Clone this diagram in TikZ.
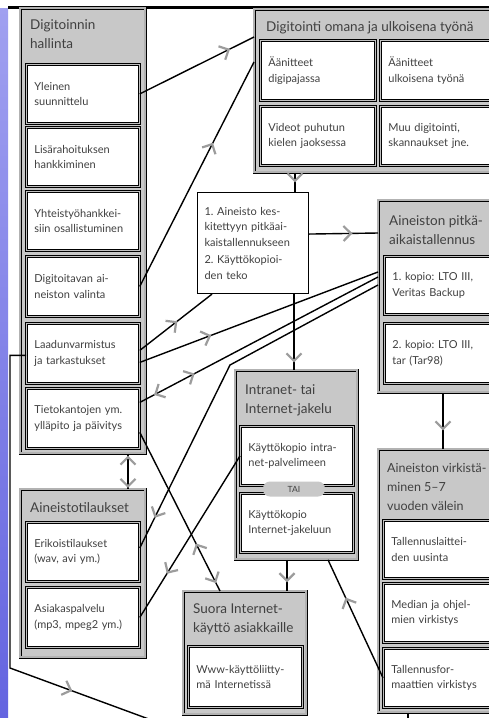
\documentclass[tikz,border=0pt]{standalone}
\usepackage{fontspec}
\setmainfont{Lato}
\usetikzlibrary{arrows.meta,decorations.markings,calc}

\definecolor{textgray}{HTML}{404040}
\definecolor{panelgray}{HTML}{C8C8C8}
\definecolor{tipgray}{HTML}{9C9C9C}
\definecolor{bandtop}{HTML}{A0A0F0}
\definecolor{bandbottom}{HTML}{6464E0}

\newcommand{\itemfont}{\fontsize{11}{15.5}\selectfont}
\newcommand{\headfont}{\fontsize{13.5}{19}\selectfont}

\tikzset{
  flow/.style={postaction={decorate, decoration={markings, mark=at position #1 with {\arrow{>}}}}},
  flowback/.style={postaction={decorate, decoration={markings, mark=at position #1 with {\arrowreversed{>}}}}},
  flowboth/.style 2 args={postaction={decorate, decoration={markings, mark=at position #1 with {\arrowreversed{>}}, mark=at position #2 with {\arrow{>}}}}},
}

\begin{document}
\begin{tikzpicture}[x=1pt, y=-1pt, >={Straight Barb[length=7.5pt, width=15pt, line width=2.2pt, color=tipgray]}]
    \tikzstyle{panel} = [rectangle, draw, fill=panelgray, double=gray!60, double distance=2pt, line width=0.8pt, anchor=north west, inner sep=0pt]
    \tikzstyle{item} = [rectangle, draw, fill=white, double=gray!50, double distance=0.8pt, line width=0.8pt, anchor=north west, align=left, inner xsep=8pt, inner ysep=2pt, font=\itemfont, text=textgray]
    \tikzstyle{task} = [rectangle, draw, fill=white, line width=1.1pt, anchor=north west, align=left, inner xsep=7pt, inner ysep=2pt, font=\itemfont, text=textgray]
    \tikzstyle{heading} = [anchor=north west, align=left, inner sep=0pt, font=\headfont, text=textgray]
    \tikzstyle{pill} = [rectangle, rounded corners=7pt, fill=panelgray, minimum width=62pt, minimum height=15pt, inner sep=0pt, font=\fontsize{8.5}{9}\selectfont, text=textgray]
    \tikzstyle{link} = [draw, line width=1.4pt]

    \useasboundingbox (0,0) rectangle (489,718);
    \clip (0,0) rectangle (489,718);
    \fill [white] (0,0) rectangle (489,718);
    \shade [top color=bandtop, bottom color=bandbottom] (0,8) rectangle (8,718);
    \fill (8,5.5) rectangle (489,8.5);

    % Digitoinnin hallinta
    \node (hallinta) [panel, minimum width=125pt, minimum height=445pt] at (20,8) {};
    \node (hallintahead) [heading] at (30,19) {Digitoinnin\\hallinta};
    \node (yleinen) [item, text width=97pt, minimum height=59pt] at (26,64) {Yleinen\\suunnittelu};
    \node (rahoitus) [item, text width=97pt, minimum height=59pt] at (26,127) {Lisärahoituksen\\hankkiminen};
    \node (yhteistyo) [item, text width=97pt, minimum height=59pt] at (26,191) {Yhteistyöhankkei-\\siin~osallistuminen};
    \node (valinta) [item, text width=97pt, minimum height=60pt] at (26,256) {Digitoitavan~ai-\\neiston~valinta};
    \node (laatu) [item, text width=97pt, minimum height=60pt] at (26,323) {Laadunvarmistus\\ja~tarkastukset};
    \node (tieto) [item, text width=97pt, minimum height=60pt] at (26,388) {Tietokantojen~ym.\\ylläpito~ja~päivitys};

    % Digitointi
    \node (digi) [panel, minimum width=250pt, minimum height=163pt] at (254,9) {};
    \node (digihead) [heading] at (266,21) {Digitointi omana ja ulkoisena työnä};
    \node (aanpaja) [item, text width=99pt, minimum height=60pt] at (260,40) {Äänitteet\\digipajassa};
    \node (aanulko) [item, text width=104pt, minimum height=60pt] at (380,40) {Äänitteet\\ulkoisena~työnä};
    \node (videot) [item, text width=99pt, minimum height=59pt] at (260,106) {Videot~puhutun\\kielen~jaoksessa};
    \node (muu) [item, text width=104pt, minimum height=59pt] at (380,106) {Muu~digitointi,\\skannaukset~jne.};

    % keskitys
    \node (keskitys) [task, text width=97pt, minimum height=101pt] at (197,192) {1.~Aineisto~kes-\\kitettyyn~pitkäai-\\kaistallennukseen\\[2pt]2.~Käyttökopioi-\\den~teko};

    % pitkäaikaistallennus
    \node (pitka) [panel, minimum width=130pt, minimum height=192pt] at (378,200) {};
    \node (pitkahead) [heading] at (389,215) {Aineiston pitkä-\\aikaistallennus};
    \node (kopio1) [item, text width=104pt, minimum height=58pt] at (384,256) {1.~kopio:~LTO~III,\\Veritas~Backup};
    \node (kopio2) [item, text width=104pt, minimum height=60pt] at (384,323) {2.~kopio:~LTO~III,\\tar~(Tar98)};

    % virkistäminen
    \node (virk) [panel, minimum width=130pt, minimum height=263pt] at (378,449) {};
    \node (virkhead) [heading, font=\fontsize{12.5}{19}\selectfont] at (387,463) {Aineiston virkistä-\\minen 5–7\\vuoden välein};
    \node (laitteet) [item, text width=104pt, minimum height=58pt] at (383,520) {Tallennuslaittei-\\den~uusinta};
    \node (media) [item, text width=104pt, minimum height=59pt] at (383,583) {Median~ja~ohjel-\\mien~virkistys};
    \node (formaatit) [item, text width=104pt, minimum height=59pt] at (383,648) {Tallennusfor-\\maattien~virkistys};

    % jakelu
    \node (jakelu) [panel, minimum width=122pt, minimum height=189pt] at (235,370) {};
    \node (jakeluhead) [heading] at (245,384) {Intranet- tai\\Internet-jakelu};
    \node (intra) [item, text width=97pt, minimum height=59pt] at (240,426) {Käyttökopio~intra-\\net-palvelimeen};
    \node (inet) [item, text width=97pt, minimum height=59pt] at (240,493) {Käyttökopio\\Internet-jakeluun};
    \node (tai) [pill] at (294,489) {TAI};

    % suora käyttö
    \node (suora) [panel, minimum width=123pt, minimum height=123pt] at (183,591) {};
    \node (suorahead) [heading] at (193,604) {Suora Internet-\\käyttö asiakkaille};
    \node (www) [item, text width=98pt, minimum height=61pt] at (188,646) {Www-käyttöliitty-\\mä~Internetissä};

    % tilaukset
    \node (tilaukset) [panel, minimum width=125pt, minimum height=168pt] at (20,489) {};
    \node (tilauksethead) [heading] at (30,502) {Aineistotilaukset};
    \node (erik) [item, text width=97pt, minimum height=59pt] at (26,522) {Erikoistilaukset\\(wav,~avi~ym.)};
    \node (asiakas) [item, text width=97pt, minimum height=60pt] at (26,587) {Asiakaspalvelu\\(mp3,~mpeg2~ym.)};

    \coordinate (bend) at (230,365);
    \coordinate (loopcorner) at (10,668);
    \coordinate (loopexit) at (165,725);
    \coordinate (virkexit) at (408,725);

    % yhteydet
    \draw [link, flow=0.79] (yleinen.east) -- ([yshift=-28pt]digi.north west);
    \draw [link, flow=0.64] (valinta.east) -- ([yshift=-53pt]digi.north west);
    \draw [link, flow=0.52] ([yshift=3pt]laatu.east) -- ([xshift=15pt]keskitys.south west);
    \draw [link, flow=0.30] ([yshift=-9pt]laatu.east) -- ([yshift=-72pt]pitka.north west);
    \draw [link, flowboth={0.06}{0.23}] ([yshift=16pt]tieto.east) -- ([yshift=-77pt]pitka.north west);
    \draw [link, flowboth={0.70}{0.95}] ([yshift=-14pt]tieto.east) -- ([xshift=37pt]suora.north west);
    \draw [link, flowback=0.09] ([yshift=4pt]erik.east) -- (bend) -- ([yshift=-85pt]pitka.north west);
    \draw [link, flowback=0.27] (asiakas.east) -- (intra.west);
    \draw [link, flow=0.68] (formaatit.west) -- ([xshift=93pt]jakelu.south west);
    \draw [link, flow=0.5] ([xshift=41pt]digi.south west) -- ([xshift=98pt]keskitys.north west);
    \draw [link, flow=0.63] ([yshift=9pt]keskitys.east) -- ([yshift=-33pt]pitka.north west);
    \draw [link, flow=0.9] ([xshift=97pt]keskitys.south west) -- ([xshift=59pt]jakelu.north west);
    \draw [link, flow=0.67] ([xshift=65pt]pitka.south west) -- ([xshift=65pt]virk.north west);
    \draw [link, flow=0.72] ([xshift=52pt]jakelu.south west) -- ([xshift=104pt]suora.north west);
    \draw [link, flowboth={0.05}{0.97}] ([xshift=108pt]hallinta.south west) -- ([xshift=108pt]tilaukset.north west);
    \draw [link, flow=0.8] ([yshift=-2pt]laatu.west) -| (loopcorner) -- (loopexit);
    \draw [link] ([xshift=30pt]virk.south west) -- (virkexit);
\end{tikzpicture}
\end{document}
